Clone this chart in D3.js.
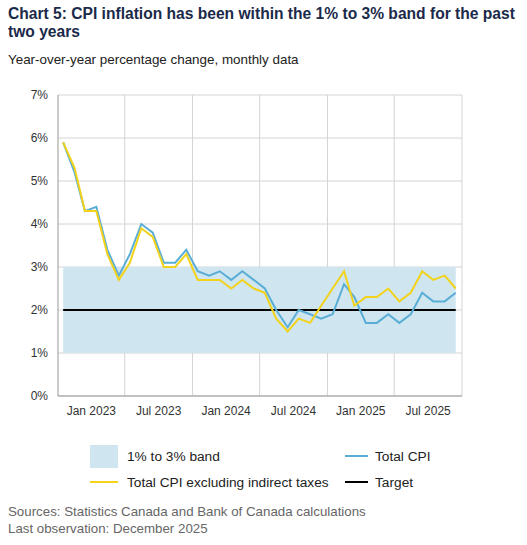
<!DOCTYPE html>
<html><head><meta charset="utf-8">
<script src="https://cdn.jsdelivr.net/npm/d3@7"></script>
<style>body{margin:0;background:#fff;font-family:Arial,"Liberation Sans",sans-serif}</style>
</head><body><svg id="c" width="527" height="545"></svg>
<script>
const months = d3.range(36).map(i => new Date(2023, i, 15));
const totalCPI = [5.9,5.2,4.3,4.4,3.4,2.8,3.3,4.0,3.8,3.1,3.1,3.4,2.9,2.8,2.9,2.7,2.9,2.7,2.5,2.0,1.6,2.0,1.9,1.8,1.9,2.6,2.3,1.7,1.7,1.9,1.7,1.9,2.4,2.2,2.2,2.4];
const exclTaxes = [5.9,5.3,4.3,4.3,3.3,2.7,3.1,3.9,3.7,3.0,3.0,3.3,2.7,2.7,2.7,2.5,2.7,2.5,2.4,1.8,1.5,1.8,1.7,2.1,2.5,2.9,2.1,2.3,2.3,2.5,2.2,2.4,2.9,2.7,2.8,2.5];
const bandLow = 1, bandHigh = 3, target = 2;
const yTicks = [0,1,2,3,4,5,6,7];
const xLabels = ["Jan 2023","Jul 2023","Jan 2024","Jul 2024","Jan 2025","Jul 2025"];
const halfStarts = d3.range(6).map(i => new Date(2023, i*6, 1));

const svg = d3.select("#c");
const L = 58, R = 462, T = 95, B = 396;
const x = d3.scaleTime().domain([new Date(2023,0,1), new Date(2026,0,1)]).range([L,R]);
const y = d3.scaleLinear().domain([0,7]).range([B,T]);
const navy = "#1b2a4a", grid = "#d4d4d4";

svg.append("text").attr("x",8).attr("y",19).attr("font-size",15.6).attr("font-weight","bold").attr("fill",navy)
  .text("Chart 5: CPI inflation has been within the 1% to 3% band for the past");
svg.append("text").attr("x",8).attr("y",37).attr("font-size",15.6).attr("font-weight","bold").attr("fill",navy).text("two years");
svg.append("text").attr("x",8).attr("y",64).attr("font-size",13.4).attr("fill","#222").text("Year-over-year percentage change, monthly data");

svg.append("g").selectAll("line").data(yTicks).join("line")
  .attr("x1",L).attr("x2",R).attr("y1",d=>y(d)).attr("y2",d=>y(d)).attr("stroke",grid);
svg.append("g").selectAll("line").data(halfStarts.slice(1).concat([new Date(2026,0,1)])).join("line")
  .attr("x1",d=>x(d)).attr("x2",d=>x(d)).attr("y1",T).attr("y2",B).attr("stroke",grid);
const x0 = x(months[0]), x1 = x(months[35]);
svg.append("rect").attr("x",x0).attr("width",x1-x0).attr("y",y(bandHigh)).attr("height",y(bandLow)-y(bandHigh)).attr("fill","#cfe6f1");
svg.append("line").attr("x1",L).attr("x2",L).attr("y1",T).attr("y2",B).attr("stroke","#999");
svg.append("line").attr("x1",L).attr("x2",R).attr("y1",B).attr("y2",B).attr("stroke","#999");
svg.append("g").selectAll("text").data(yTicks).join("text")
  .attr("x",L-10).attr("y",d=>y(d)+4).attr("text-anchor","end").attr("font-size",12).attr("fill","#333").text(d=>d+"%");
svg.append("g").selectAll("text").data(xLabels).join("text")
  .attr("x",(d,i)=>(x(halfStarts[i])+ x(i<5?halfStarts[i+1]:new Date(2026,0,1)))/2).attr("y",B+19)
  .attr("text-anchor","middle").attr("font-size",12).attr("fill","#333").text(d=>d);
svg.append("line").attr("x1",x0).attr("x2",x1).attr("y1",y(target)).attr("y2",y(target)).attr("stroke","#000").attr("stroke-width",2);
const line = d3.line().x((d,i)=>x(months[i])).y(d=>y(d));
svg.append("path").datum(totalCPI).attr("d",line).attr("fill","none").attr("stroke","#5aaed6").attr("stroke-width",2);
svg.append("path").datum(exclTaxes).attr("d",line).attr("fill","none").attr("stroke","#f2d21b").attr("stroke-width",2);

const lg = svg.append("g").attr("font-size",13.7).attr("fill","#222");
lg.append("rect").attr("x",90).attr("y",445).attr("width",28).attr("height",23).attr("fill","#cfe6f1");
lg.append("text").attr("x",127).attr("y",461).text("1% to 3% band");
lg.append("line").attr("x1",345).attr("x2",368).attr("y1",456).attr("y2",456).attr("stroke","#5aaed6").attr("stroke-width",2);
lg.append("text").attr("x",375).attr("y",461).text("Total CPI");
lg.append("line").attr("x1",90).attr("x2",118).attr("y1",482).attr("y2",482).attr("stroke","#f2d21b").attr("stroke-width",2);
lg.append("text").attr("x",127).attr("y",487).text("Total CPI excluding indirect taxes");
lg.append("line").attr("x1",345).attr("x2",368).attr("y1",482).attr("y2",482).attr("stroke","#000").attr("stroke-width",2);
lg.append("text").attr("x",375).attr("y",487).text("Target");

svg.append("text").attr("x",8).attr("y",516).attr("font-size",13.3).attr("fill","#666").text("Sources: Statistics Canada and Bank of Canada calculations");
svg.append("text").attr("x",8).attr("y",533).attr("font-size",13.3).attr("fill","#666").text("Last observation: December 2025");
</script></body></html>
